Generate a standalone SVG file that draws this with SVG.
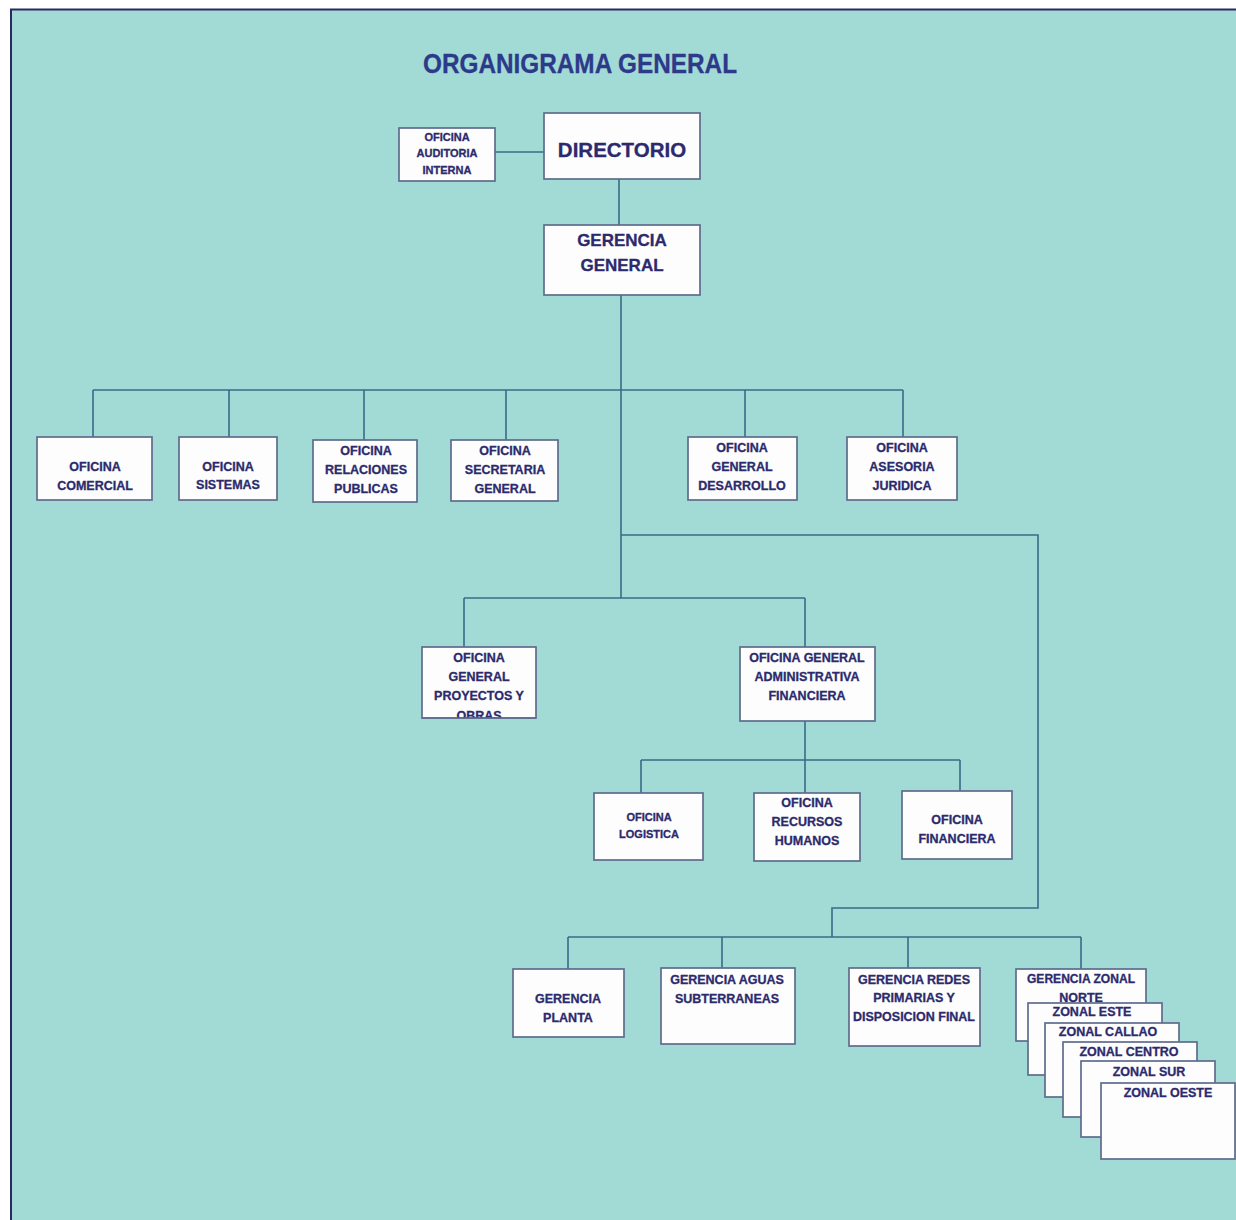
<svg xmlns="http://www.w3.org/2000/svg" width="1236" height="1220" viewBox="0 0 1236 1220">
  <defs>
    <style>
      .bg { fill: #a2dbd5; }
      .frame { fill: none; stroke: #2a2a62; stroke-width: 2; }
      .box { fill: #fdfdfd; stroke: #5e6c8e; stroke-width: 1.7; }
      .link { fill: none; stroke: #3b6a88; stroke-width: 1.6; }
      .t { font-family: "Liberation Sans", Arial, sans-serif; font-weight: bold; fill: #2c2a6c; stroke: #2c2a6c; stroke-width: 0.3; text-anchor: middle; }
      .s11 { font-size: 11px; }
      .s12 { font-size: 12.5px; }
      .title { font-family: "Liberation Sans", Arial, sans-serif; font-weight: bold; font-size: 27px; fill: #2d3a8a; stroke: #2d3a8a; stroke-width: 0.3; text-anchor: middle; }
    </style>
    <clipPath id="clipProyectos"><rect x="422" y="647" width="114" height="71"/></clipPath>
  </defs>

  <!-- page and frame -->
  <rect x="0" y="0" width="1236" height="1220" fill="#ffffff"/>
  <rect class="bg" x="11" y="9" width="1225" height="1211"/>
  <path class="frame" d="M11,1220 V9.5 H1236"/>

  <text class="title" x="580" y="73" textLength="314" lengthAdjust="spacingAndGlyphs">ORGANIGRAMA GENERAL</text>

  <!-- connectors -->
  <g id="connectors">
    <path class="link" d="M495,152 H544"/>
    <path class="link" d="M619,179 V225"/>
    <path class="link" d="M621,295 V598"/>
    <path class="link" d="M93,390 H903"/>
    <path class="link" d="M93,390 V437 M229,390 V437 M364,390 V440 M506,390 V440 M745,390 V437 M903,390 V437"/>
    <path class="link" d="M621,535 H1038 V908 H832 V937"/>
    <path class="link" d="M568,937 H1081"/>
    <path class="link" d="M568,937 V969 M722,937 V968 M908,937 V968 M1081,937 V969"/>
    <path class="link" d="M464,598 H805"/>
    <path class="link" d="M464,598 V647 M805,598 V647"/>
    <path class="link" d="M805,721 V760 M641,760 H960"/>
    <path class="link" d="M641,760 V793 M805,760 V793 M960,760 V791"/>
  </g>

  <!-- top levels -->
  <g id="auditoria">
    <rect class="box" x="399" y="128" width="96" height="53"/>
    <text class="t s11" x="447" y="141">OFICINA</text>
    <text class="t s11" x="447" y="157">AUDITORIA</text>
    <text class="t s11" x="447" y="174">INTERNA</text>
  </g>
  <g id="directorio">
    <rect class="box" x="544" y="113" width="156" height="66"/>
    <text class="t" style="font-size:20.5px" x="622" y="157">DIRECTORIO</text>
  </g>
  <g id="gerencia-general">
    <rect class="box" x="544" y="225" width="156" height="70"/>
    <text class="t" style="font-size:17px" x="622" y="246">GERENCIA</text>
    <text class="t" style="font-size:17px" x="622" y="271">GENERAL</text>
  </g>

  <!-- staff offices -->
  <g id="comercial">
    <rect class="box" x="37" y="437" width="115" height="63"/>
    <text class="t s12" x="95" y="471">OFICINA</text>
    <text class="t s12" x="95" y="490">COMERCIAL</text>
  </g>
  <g id="sistemas">
    <rect class="box" x="179" y="437" width="98" height="63"/>
    <text class="t s12" x="228" y="471">OFICINA</text>
    <text class="t s12" x="228" y="489">SISTEMAS</text>
  </g>
  <g id="relaciones-publicas">
    <rect class="box" x="313" y="440" width="104" height="62"/>
    <text class="t s12" x="366" y="455">OFICINA</text>
    <text class="t s12" x="366" y="474">RELACIONES</text>
    <text class="t s12" x="366" y="493">PUBLICAS</text>
  </g>
  <g id="secretaria-general">
    <rect class="box" x="451" y="440" width="107" height="61"/>
    <text class="t s12" x="505" y="455">OFICINA</text>
    <text class="t s12" x="505" y="474">SECRETARIA</text>
    <text class="t s12" x="505" y="493">GENERAL</text>
  </g>
  <g id="desarrollo">
    <rect class="box" x="688" y="437" width="109" height="63"/>
    <text class="t s12" x="742" y="452">OFICINA</text>
    <text class="t s12" x="742" y="471">GENERAL</text>
    <text class="t s12" x="742" y="490">DESARROLLO</text>
  </g>
  <g id="asesoria-juridica">
    <rect class="box" x="847" y="437" width="110" height="63"/>
    <text class="t s12" x="902" y="452">OFICINA</text>
    <text class="t s12" x="902" y="471">ASESORIA</text>
    <text class="t s12" x="902" y="490">JURIDICA</text>
  </g>

  <!-- line offices -->
  <g id="proyectos-obras">
    <rect class="box" x="422" y="647" width="114" height="71"/>
    <g clip-path="url(#clipProyectos)">
      <text class="t s12" x="479" y="662">OFICINA</text>
      <text class="t s12" x="479" y="681">GENERAL</text>
      <text class="t s12" x="479" y="700">PROYECTOS Y</text>
      <text class="t s12" x="479" y="720">OBRAS</text>
    </g>
    <path class="box" d="M422,718 H536" fill="none"/>
  </g>
  <g id="administrativa-financiera">
    <rect class="box" x="740" y="647" width="135" height="74"/>
    <text class="t s12" x="807" y="662">OFICINA GENERAL</text>
    <text class="t s12" x="807" y="681">ADMINISTRATIVA</text>
    <text class="t s12" x="807" y="700">FINANCIERA</text>
  </g>
  <g id="logistica">
    <rect class="box" x="594" y="793" width="109" height="67"/>
    <text class="t s11" x="649" y="821">OFICINA</text>
    <text class="t s11" x="649" y="838">LOGISTICA</text>
  </g>
  <g id="recursos-humanos">
    <rect class="box" x="754" y="793" width="106" height="68"/>
    <text class="t s12" x="807" y="807">OFICINA</text>
    <text class="t s12" x="807" y="826">RECURSOS</text>
    <text class="t s12" x="807" y="845">HUMANOS</text>
  </g>
  <g id="financiera">
    <rect class="box" x="902" y="791" width="110" height="68"/>
    <text class="t s12" x="957" y="824">OFICINA</text>
    <text class="t s12" x="957" y="843">FINANCIERA</text>
  </g>

  <!-- operational managements -->
  <g id="planta">
    <rect class="box" x="513" y="969" width="111" height="68"/>
    <text class="t s12" x="568" y="1003">GERENCIA</text>
    <text class="t s12" x="568" y="1022">PLANTA</text>
  </g>
  <g id="aguas-subterraneas">
    <rect class="box" x="661" y="968" width="134" height="76"/>
    <text class="t s12" x="727" y="984">GERENCIA AGUAS</text>
    <text class="t s12" x="727" y="1003">SUBTERRANEAS</text>
  </g>
  <g id="redes-primarias">
    <rect class="box" x="849" y="968" width="131" height="78"/>
    <text class="t s12" x="914" y="984">GERENCIA REDES</text>
    <text class="t s12" x="914" y="1002">PRIMARIAS Y</text>
    <text class="t s12" x="914" y="1021" textLength="122" lengthAdjust="spacingAndGlyphs">DISPOSICION FINAL</text>
  </g>

  <!-- zonal managements, stacked -->
  <g id="zonal-norte">
    <rect class="box" x="1016" y="969" width="130" height="72"/>
    <text class="t s12" x="1081" y="983" textLength="108" lengthAdjust="spacingAndGlyphs">GERENCIA ZONAL</text>
    <text class="t s12" x="1081" y="1002">NORTE</text>
  </g>
  <g id="zonal-este">
    <rect class="box" x="1028" y="1003" width="134" height="72"/>
    <text class="t s12" x="1092" y="1016">ZONAL ESTE</text>
  </g>
  <g id="zonal-callao">
    <rect class="box" x="1045" y="1023" width="134" height="74"/>
    <text class="t s12" x="1108" y="1036">ZONAL CALLAO</text>
  </g>
  <g id="zonal-centro">
    <rect class="box" x="1063" y="1042" width="134" height="75"/>
    <text class="t s12" x="1129" y="1056">ZONAL CENTRO</text>
  </g>
  <g id="zonal-sur">
    <rect class="box" x="1081" y="1061" width="134" height="76"/>
    <text class="t s12" x="1149" y="1076">ZONAL SUR</text>
  </g>
  <g id="zonal-oeste">
    <rect class="box" x="1101" y="1083" width="134" height="76"/>
    <text class="t s12" x="1168" y="1097">ZONAL OESTE</text>
  </g>
</svg>
